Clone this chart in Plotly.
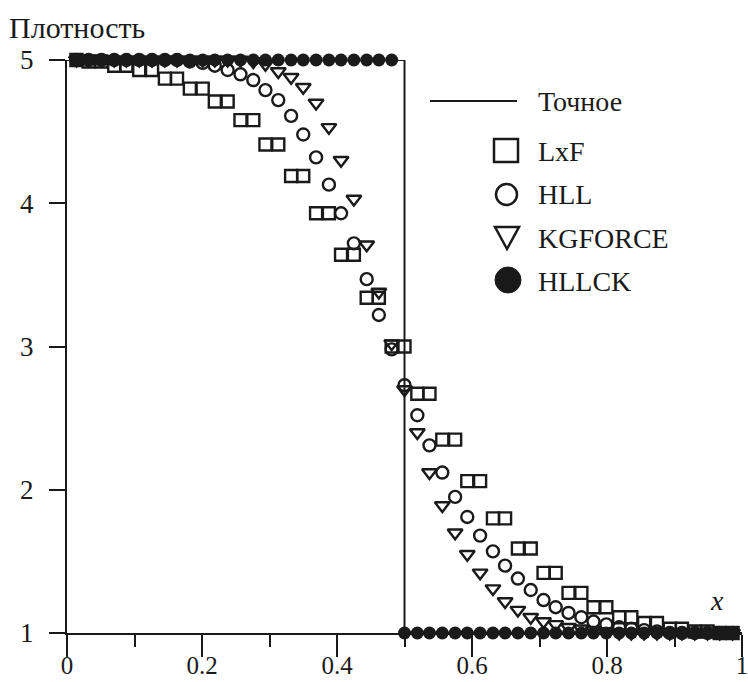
import plotly.graph_objects as go

# ---------------- data ----------------
x_grid = [0.014, 0.032, 0.051, 0.070, 0.088, 0.107, 0.126, 0.145, 0.163, 0.182,
          0.201, 0.219, 0.238, 0.257, 0.276, 0.294, 0.313, 0.332, 0.350, 0.369,
          0.388, 0.406, 0.425, 0.444, 0.462, 0.481, 0.500, 0.519, 0.537, 0.556,
          0.575, 0.593, 0.612, 0.631, 0.649, 0.668, 0.687, 0.706, 0.724, 0.743,
          0.762, 0.780, 0.799, 0.818, 0.836, 0.855, 0.874, 0.893, 0.911, 0.930,
          0.949, 0.967, 0.986]

exact_x = [0.0, 0.5, 0.5, 1.0]
exact_y = [5.0, 5.0, 1.0, 1.0]

lxf_y = [5.00, 4.99, 4.99, 4.96, 4.96, 4.93, 4.93, 4.87, 4.87, 4.80,
         4.80, 4.71, 4.71, 4.58, 4.58, 4.41, 4.41, 4.19, 4.19, 3.93,
         3.93, 3.64, 3.64, 3.34, 3.34, 3.00, 3.00, 2.67, 2.67, 2.35,
         2.35, 2.06, 2.06, 1.80, 1.80, 1.59, 1.59, 1.42, 1.42, 1.28,
         1.28, 1.18, 1.18, 1.11, 1.11, 1.07, 1.07, 1.03, 1.03, 1.01,
         1.01, 1.00, 1.00]

hll_y = [5.00, 5.00, 5.00, 5.00, 5.00, 5.00, 5.00, 5.00, 5.00, 4.99,
         4.98, 4.96, 4.93, 4.90, 4.86, 4.79, 4.72, 4.61, 4.48, 4.32,
         4.13, 3.93, 3.72, 3.47, 3.22, 2.98, 2.73, 2.52, 2.31, 2.12,
         1.95, 1.81, 1.68, 1.57, 1.47, 1.38, 1.30, 1.23, 1.18, 1.14,
         1.11, 1.08, 1.06, 1.04, 1.03, 1.02, 1.01, 1.00, 1.00, 1.00,
         1.00, 1.00, 1.00]

kgforce_y = [5.00, 5.00, 5.00, 5.00, 5.00, 5.00, 5.00, 5.00, 5.00, 5.00,
             5.00, 5.00, 5.00, 5.00, 4.99, 4.97, 4.92, 4.88, 4.81, 4.70,
             4.53, 4.30, 4.03, 3.71, 3.38, 3.02, 2.70, 2.40, 2.12, 1.89,
             1.70, 1.55, 1.42, 1.31, 1.22, 1.16, 1.11, 1.08, 1.06, 1.04,
             1.03, 1.02, 1.01, 1.00, 1.00, 1.00, 1.00, 1.00, 1.00, 1.00,
             1.00, 1.00, 1.00]

hllck_y = [5.0] * 26 + [1.0] * 27

x_tickvals = [0, 0.2, 0.4, 0.6, 0.8, 1.0]
x_ticktext = ["0", "0.2", "0.4", "0.6", "0.8", "1"]
y_tickvals = [1, 2, 3, 4, 5]
y_ticktext = ["1", "2", "3", "4", "5"]

legend_names = ["Точное", "LxF", "HLL", "KGFORCE", "HLLCK"]
y_title = "Плотность"
x_title = "x"

# ---------------- layout helpers ----------------
W, H = 748, 682
ML, MR, MT, MB = 67, 6, 60, 49
PW, PH = W - ML - MR, H - MT - MB
INK = "#1a1a1a"
FONT = "Liberation Serif"


def px(xp):
    return (xp - ML) / PW


def py(yp):
    return (MT + PH - yp) / PH


fig = go.Figure()

fig.add_trace(go.Scatter(x=exact_x, y=exact_y, mode="lines",
                         line=dict(color=INK, width=2), showlegend=False,
                         cliponaxis=False, name=legend_names[0]))
fig.add_trace(go.Scatter(x=x_grid, y=lxf_y, mode="markers", name=legend_names[1],
                         marker=dict(symbol="square-open", size=12, color=INK,
                                     line=dict(width=2.4, color=INK)),
                         showlegend=False, cliponaxis=False))
fig.add_trace(go.Scatter(x=x_grid, y=hll_y, mode="markers", name=legend_names[2],
                         marker=dict(symbol="circle-open", size=12, color=INK,
                                     line=dict(width=2.4, color=INK)),
                         showlegend=False, cliponaxis=False))
fig.add_trace(go.Scatter(x=x_grid, y=kgforce_y, mode="markers", name=legend_names[3],
                         marker=dict(symbol="triangle-down-open", size=13, color=INK,
                                     line=dict(width=2.4, color=INK)),
                         showlegend=False, cliponaxis=False))
fig.add_trace(go.Scatter(x=x_grid, y=hllck_y, mode="markers", name=legend_names[4],
                         marker=dict(symbol="circle", size=13, color=INK,
                                     line=dict(width=0)),
                         showlegend=False, cliponaxis=False))

# ---------------- hand-drawn legend (as in the original) ----------------
shapes = []
annotations = []
shapes.append(dict(type="line", xref="paper", yref="paper",
                   x0=px(430), x1=px(517), y0=py(101), y1=py(101),
                   line=dict(color=INK, width=2)))
# square
shapes.append(dict(type="rect", xref="paper", yref="paper",
                   x0=px(494), x1=px(518), y0=py(162), y1=py(139),
                   line=dict(color=INK, width=2.5)))
# open circle
shapes.append(dict(type="circle", xref="paper", yref="paper",
                   x0=px(496), x1=px(517), y0=py(205), y1=py(184),
                   line=dict(color=INK, width=2.5)))
# down triangle
shapes.append(dict(type="path", xref="paper", yref="paper",
                   path=f"M {px(495)},{py(227)} L {px(519)},{py(227)} L {px(507)},{py(249)} Z",
                   line=dict(color=INK, width=2.5)))
# filled circle
shapes.append(dict(type="circle", xref="paper", yref="paper",
                   x0=px(495), x1=px(521), y0=py(293), y1=py(267),
                   fillcolor=INK, line=dict(color=INK, width=1)))

for name, yy in zip(legend_names, [101, 151, 195, 238, 281]):
    annotations.append(dict(text=name, xref="paper", yref="paper",
                            x=px(536), y=py(yy), xanchor="left", yanchor="middle",
                            showarrow=False, font=dict(family=FONT, size=28, color=INK)))

annotations.append(dict(text=y_title, xref="paper", yref="paper",
                        x=px(7), y=py(27), xanchor="left", yanchor="middle",
                        showarrow=False, font=dict(family=FONT, size=30, color=INK)))
annotations.append(dict(text=f"<i>{x_title}</i>", xref="paper", yref="paper",
                        x=px(717), y=py(600), xanchor="center", yanchor="middle",
                        showarrow=False, font=dict(family=FONT, size=28, color=INK)))

fig.update_layout(
    width=W, height=H,
    margin=dict(l=ML, r=MR, t=MT, b=MB, pad=0, autoexpand=False),
    paper_bgcolor="white", plot_bgcolor="white",
    showlegend=False,
    font=dict(family=FONT, size=27, color=INK),
    shapes=shapes, annotations=annotations,
)
fig.update_xaxes(range=[0, 1], showgrid=False, zeroline=False, automargin=False,
                 showline=True, linecolor=INK, linewidth=2,
                 ticks="outside", ticklen=22, tickwidth=2, tickcolor=INK,
                 tickvals=x_tickvals, ticktext=x_ticktext,
                 ticklabelstandoff=-13, ticklabeloverflow="allow",
                 minor=dict(dtick=0.1, ticks="outside", ticklen=12, tickwidth=2, tickcolor=INK),
                 tickfont=dict(family=FONT, size=25, color=INK))
fig.update_yaxes(range=[1, 5], showgrid=False, zeroline=False, automargin=False,
                 showline=True, linecolor=INK, linewidth=2,
                 ticks="outside", ticklen=16, tickwidth=2, tickcolor=INK,
                 tickvals=y_tickvals, ticktext=y_ticktext,
                 ticklabelstandoff=10, ticklabeloverflow="allow",
                 tickfont=dict(family=FONT, size=27, color=INK))

fig.write_html("out.html", config={"displayModeBar": False},
               post_script="document.body.style.margin='0px';document.body.style.padding='0px';")
